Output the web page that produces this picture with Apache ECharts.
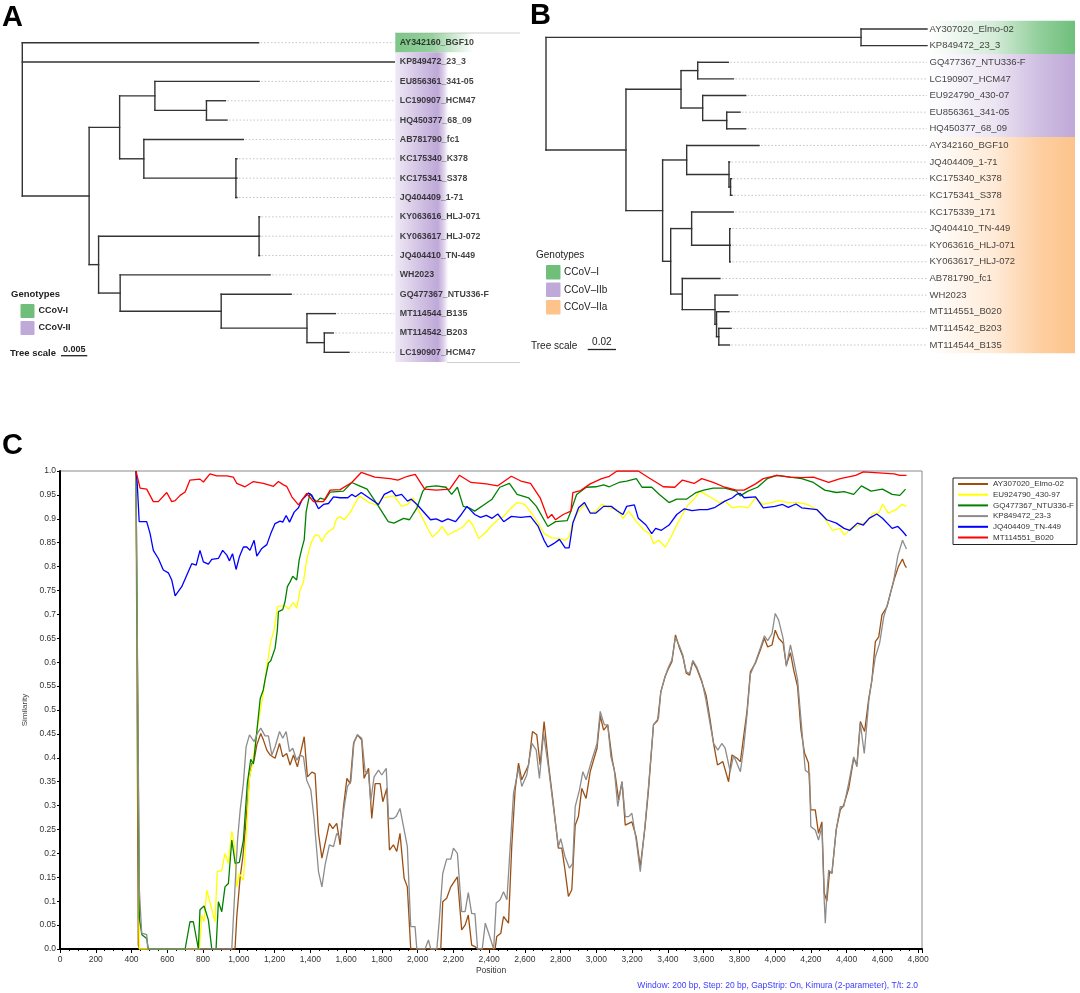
<!DOCTYPE html>
<html>
<head>
<meta charset="utf-8">
<title>CCoV trees and similarity plot</title>
<script src="https://cdn.jsdelivr.net/npm/echarts/dist/echarts.min.js"></script>
<style>
html,body{margin:0;padding:0;background:#fff;}
#main{width:1080px;height:993px;}
</style>
</head>
<body>
<div id="main"></div>
<script>
//=================================================================================
// A / B : phylogenetic trees, branch lengths
var treeA = "(AY342160_BGF10:0.0449,KP849472_23_3:0.0707,(((EU856361_341-05:0.0198,(LC190907_HCM47:0.0036,HQ450377_68_09:0.0039):0.0098):0.0067,(AB781790_fc1:0.0189,(KC175340_K378:0.0002,KC175341_S378:0.0002,JQ404409_1-71:0.0002):0.0175):0.0046):0.0058,((KY063616_HLJ-071:0.0001,KY063617_HLJ-072:0.0001,JQ404410_TN-449:0.0001):0.0305,(WH2023:0.0285,(GQ477367_NTU336-F:0.0133,(MT114544_B135:0.0054,(MT114542_B203:0.0017,LC190907_HCM47:0.0047):0.0033):0.0163):0.0192):0.0041):0.0018):0.0127);";
var treeB = "((AY307020_Elmo-02:0.0466,KP849472_23_3:0.0466):0.2226,(((GQ477367_NTU336-F:0.0216,LC190907_HCM47:0.0252):0.0118,(EU924790_430-07:0.0304,(EU856361_341-05:0.0094,HQ450377_68_09:0.0134):0.0170):0.0153):0.0389,((AY342160_BGF10:0.0511,(JQ404409_1-71:0.0004,(KC175340_K378:0.0007,KC175341_S378:0.0010):0.0011):0.0299):0.0170,((KC175339_171:0.0294,(JQ404410_TN-449:0.0004,KY063616_HLJ-071:0.0004,KY063617_HLJ-072:0.0004):0.0269):0.0148,(AB781790_fc1:0.0266,(WH2023:0.0160,(MT114551_B020:0.0088,(MT114542_B203:0.0087,MT114544_B135:0.0075):0.0016):0.0011):0.0231):0.0082):0.0057):0.0259):0.0565);";

// genotype strips: [first row, last row, colour index]
var groupsA = [[0, 0, 0], [1, 16, 1]];
var groupsB = [[0, 1, 0], [2, 6, 1], [7, 19, 2]];
var genoNamesA = ['CCoV-I', 'CCoV-II'];
var genoNamesB = ['CCoV\u2013I', 'CCoV\u2013IIb', 'CCoV\u2013IIa'];
var genoColors = ['#6fbf7b', '#bfa9d8', '#fdc38b'];
var scaleA = 0.005;
var scaleB = 0.02;

//=================================================================================
// C : similarity plot, [position, similarity]
var simNames = ['AY307020_Elmo-02', 'EU924790_430-97', 'GQ477367_NTU336-F', 'KP849472_23-3', 'JQ404409_TN-449', 'MT114551_B020'];
var simColors = ['#9c4f12', '#ffff00', '#008000', '#8c8c8c', '#0000ff', '#ff0000'];

var simBrown = [[425,1.0],[438,0.008],[445,0],[979,0],[989,0.068],[1008,0.151],[1023,0.193],[1041,0.27],[1060,0.36],[1073,0.388],[1086,0.395],[1101,0.427],[1123,0.451],[1138,0.437],[1157,0.416],[1175,0.406],[1203,0.399],[1228,0.43],[1246,0.402],[1268,0.409],[1287,0.385],[1306,0.406],[1328,0.381],[1343,0.406],[1366,0.444],[1384,0.36],[1409,0.37],[1427,0.367],[1446,0.242],[1465,0.19],[1483,0.221],[1507,0.263],[1526,0.252],[1548,0.263],[1567,0.218],[1586,0.298],[1605,0.357],[1623,0.346],[1642,0.43],[1664,0.448],[1688,0.437],[1701,0.357],[1726,0.378],[1744,0.273],[1763,0.346],[1791,0.346],[1806,0.308],[1828,0.336],[1843,0.207],[1865,0.218],[1884,0.204],[1902,0.242],[1925,0.148],[1943,0.13],[1962,0],[2130,0],[2141,0.099],[2163,0.106],[2186,0.13],[2223,0.151],[2247,0.04],[2266,0.05],[2284,0.071],[2303,0.008],[2321,0.005],[2336,0],[2434,0],[2443,0.026],[2466,0.033],[2481,0.068],[2509,0.054],[2527,0.214],[2546,0.333],[2565,0.389],[2583,0.354],[2621,0.385],[2643,0.455],[2667,0.448],[2686,0.385],[2708,0.476],[2732,0.389],[2757,0.312],[2788,0.211],[2807,0.211],[2825,0.165],[2844,0.11],[2863,0.124],[2882,0.259],[2900,0.277],[2919,0.336],[2943,0.315],[2966,0.371],[3004,0.42],[3022,0.488],[3041,0.458],[3064,0.469],[3088,0.399],[3106,0.364],[3125,0.312],[3144,0.35],[3162,0.259],[3199,0.266],[3223,0.235],[3246,0.172],[3273,0.256],[3292,0.333],[3320,0.469],[3343,0.478],[3361,0.538],[3385,0.57],[3404,0.587],[3423,0.601],[3443,0.657],[3466,0.629],[3484,0.612],[3503,0.577],[3522,0.573],[3540,0.601],[3562,0.587],[3590,0.559],[3614,0.531],[3637,0.479],[3656,0.43],[3678,0.385],[3708,0.392],[3740,0.35],[3759,0.406],[3787,0.399],[3806,0.392],[3824,0.444],[3843,0.497],[3862,0.58],[3890,0.598],[3918,0.626],[3940,0.65],[3959,0.632],[3983,0.636],[4001,0.667],[4020,0.65],[4045,0.64],[4063,0.594],[4086,0.62],[4104,0.584],[4126,0.549],[4145,0.458],[4165,0.41],[4187,0.389],[4200,0.291],[4225,0.291],[4243,0.242],[4262,0.266],[4275,0.117],[4290,0.1],[4295,0.102],[4305,0.162],[4318,0.158],[4342,0.249],[4365,0.291],[4384,0.301],[4412,0.336],[4440,0.399],[4458,0.385],[4477,0.476],[4501,0.455],[4523,0.521],[4542,0.563],[4561,0.643],[4580,0.653],[4598,0.699],[4626,0.716],[4645,0.744],[4666,0.773],[4690,0.8],[4713,0.816],[4726,0.803],[4735,0.798]];

var simYellow = [[425,1.0],[444,0],[780,0],[793,0.071],[806,0.057],[821,0.123],[843,0.092],[867,0.057],[880,0.162],[905,0.164],[923,0.2],[942,0.179],[961,0.246],[974,0.221],[989,0.13],[1003,0.158],[1026,0.144],[1045,0.256],[1060,0.36],[1078,0.388],[1101,0.455],[1119,0.495],[1137,0.535],[1157,0.591],[1179,0.643],[1198,0.668],[1216,0.716],[1231,0.718],[1259,0.718],[1278,0.711],[1306,0.725],[1324,0.713],[1343,0.751],[1362,0.768],[1380,0.814],[1403,0.848],[1427,0.866],[1446,0.866],[1465,0.852],[1483,0.866],[1511,0.876],[1530,0.88],[1548,0.901],[1567,0.904],[1589,0.898],[1621,0.912],[1675,0.948],[1728,0.934],[1771,0.929],[1804,0.944],[1868,0.948],[1890,0.937],[1911,0.926],[1944,0.93],[1976,0.944],[2008,0.916],[2051,0.884],[2083,0.862],[2116,0.873],[2137,0.884],[2170,0.866],[2202,0.873],[2223,0.876],[2256,0.884],[2288,0.898],[2309,0.887],[2342,0.859],[2385,0.873],[2417,0.887],[2449,0.898],[2482,0.905],[2514,0.919],[2557,0.934],[2600,0.93],[2643,0.909],[2675,0.891],[2708,0.869],[2751,0.86],[2794,0.859],[2826,0.855],[2848,0.862],[2869,0.894],[2901,0.916],[2934,0.93],[2966,0.912],[2998,0.916],[3030,0.93],[3073,0.923],[3116,0.919],[3149,0.901],[3181,0.916],[3224,0.894],[3267,0.876],[3299,0.869],[3321,0.848],[3349,0.855],[3386,0.841],[3418,0.862],[3450,0.887],[3482,0.909],[3515,0.93],[3547,0.941],[3579,0.958],[3611,0.951],[3644,0.944],[3687,0.934],[3719,0.937],[3762,0.923],[3805,0.926],[3848,0.923],[3891,0.944],[3934,0.93],[3977,0.934],[4020,0.938],[4074,0.934],[4128,0.934],[4182,0.93],[4235,0.919],[4278,0.901],[4321,0.876],[4365,0.88],[4386,0.866],[4429,0.88],[4472,0.887],[4515,0.894],[4548,0.912],[4580,0.912],[4601,0.93],[4634,0.912],[4677,0.919],[4709,0.93],[4735,0.926]];

var simGreen = [[425,1.0],[444,0.064],[458,0.03],[485,0.022],[494,0],[700,0],[727,0.057],[746,0.057],[774,0],[783,0.082],[806,0.09],[830,0.061],[849,0],[873,0],[886,0.099],[905,0.078],[923,0.13],[942,0.137],[961,0.228],[980,0.179],[1003,0.181],[1026,0.228],[1048,0.347],[1067,0.397],[1082,0.387],[1101,0.455],[1120,0.524],[1137,0.542],[1147,0.563],[1166,0.598],[1179,0.603],[1203,0.629],[1216,0.668],[1222,0.706],[1246,0.71],[1259,0.727],[1272,0.758],[1287,0.768],[1302,0.78],[1324,0.772],[1338,0.814],[1353,0.838],[1366,0.856],[1377,0.915],[1390,0.939],[1399,0.953],[1414,0.943],[1436,0.936],[1455,0.943],[1483,0.94],[1511,0.956],[1586,0.958],[1632,0.976],[1675,0.969],[1718,0.962],[1782,0.926],[1836,0.894],[1868,0.891],[1922,0.901],[1955,0.898],[1997,0.923],[2030,0.958],[2051,0.967],[2105,0.969],[2159,0.966],[2191,0.951],[2223,0.966],[2256,0.926],[2288,0.923],[2320,0.916],[2374,0.93],[2417,0.941],[2460,0.966],[2514,0.974],[2557,0.951],[2621,0.944],[2665,0.926],[2729,0.884],[2772,0.894],[2837,0.896],[2858,0.916],[2890,0.951],[2944,0.966],[2998,0.967],[3041,0.971],[3073,0.967],[3127,0.976],[3170,0.979],[3224,0.984],[3256,0.966],[3310,0.966],[3353,0.951],[3407,0.934],[3450,0.941],[3504,0.941],[3558,0.955],[3601,0.96],[3654,0.964],[3719,0.964],[3784,0.958],[3805,0.948],[3848,0.958],[3902,0.966],[3956,0.984],[4010,0.991],[4085,0.987],[4149,0.984],[4214,0.976],[4278,0.96],[4343,0.955],[4386,0.957],[4440,0.951],[4483,0.969],[4537,0.958],[4601,0.962],[4655,0.951],[4698,0.949],[4730,0.962]];

var simGray = [[425,1.0],[444,0.124],[457,0.033],[485,0.03],[491,0],[961,0],[980,0.137],[993,0.228],[1008,0.291],[1026,0.347],[1041,0.423],[1060,0.448],[1086,0.434],[1104,0.451],[1123,0.462],[1147,0.446],[1166,0.446],[1185,0.406],[1203,0.423],[1228,0.455],[1246,0.441],[1265,0.455],[1284,0.413],[1302,0.42],[1324,0.395],[1343,0.406],[1362,0.402],[1380,0.353],[1403,0.333],[1421,0.273],[1446,0.162],[1465,0.13],[1483,0.176],[1507,0.218],[1530,0.214],[1548,0.242],[1567,0.232],[1590,0.298],[1608,0.34],[1627,0.35],[1645,0.434],[1664,0.448],[1688,0.441],[1707,0.371],[1726,0.367],[1738,0.308],[1757,0.36],[1782,0.374],[1800,0.364],[1825,0.378],[1838,0.273],[1865,0.273],[1880,0.277],[1902,0.294],[1925,0.249],[1943,0.214],[1962,0.047],[1986,0.047],[1996,0],[2042,0],[2061,0.019],[2074,0],[2108,0],[2122,0.061],[2141,0.158],[2163,0.188],[2186,0.188],[2201,0.211],[2223,0.2],[2247,0.078],[2266,0.078],[2284,0.118],[2303,0.074],[2321,0.074],[2336,0],[2362,0],[2379,0.054],[2398,0.033],[2426,0],[2440,0.096],[2462,0.103],[2481,0.12],[2500,0.103],[2518,0.211],[2537,0.326],[2565,0.378],[2583,0.34],[2611,0.364],[2640,0.43],[2664,0.416],[2682,0.357],[2705,0.451],[2732,0.381],[2760,0.298],[2788,0.214],[2801,0.231],[2825,0.193],[2850,0.169],[2868,0.179],[2882,0.298],[2906,0.333],[2925,0.371],[2943,0.354],[2970,0.389],[3004,0.43],[3022,0.497],[3045,0.469],[3064,0.469],[3082,0.402],[3101,0.374],[3120,0.298],[3144,0.35],[3162,0.277],[3181,0.277],[3199,0.284],[3223,0.228],[3246,0.162],[3270,0.249],[3292,0.34],[3320,0.469],[3348,0.483],[3361,0.538],[3385,0.57],[3404,0.59],[3423,0.605],[3443,0.652],[3466,0.633],[3484,0.615],[3503,0.58],[3522,0.576],[3540,0.604],[3562,0.59],[3590,0.562],[3614,0.52],[3637,0.47],[3656,0.43],[3680,0.416],[3702,0.43],[3721,0.42],[3749,0.371],[3768,0.405],[3787,0.388],[3806,0.371],[3824,0.42],[3843,0.49],[3862,0.575],[3890,0.6],[3918,0.63],[3940,0.655],[3959,0.645],[3983,0.66],[4001,0.702],[4020,0.688],[4045,0.65],[4063,0.591],[4086,0.636],[4104,0.605],[4126,0.563],[4150,0.458],[4169,0.374],[4193,0.367],[4200,0.256],[4225,0.249],[4243,0.228],[4262,0.256],[4275,0.102],[4281,0.054],[4290,0.117],[4300,0.165],[4318,0.158],[4342,0.249],[4365,0.298],[4384,0.298],[4412,0.347],[4440,0.402],[4458,0.381],[4477,0.472],[4499,0.409],[4525,0.521],[4561,0.611],[4585,0.64],[4608,0.695],[4636,0.73],[4664,0.772],[4687,0.823],[4713,0.855],[4735,0.837]];

var simBlue = [[425,1.0],[432,0.974],[443,0.894],[485,0.894],[504,0.869],[522,0.834],[550,0.817],[578,0.793],[606,0.787],[625,0.772],[644,0.739],[681,0.758],[709,0.782],[737,0.806],[762,0.803],[783,0.834],[802,0.81],[830,0.805],[849,0.815],[886,0.817],[910,0.834],[933,0.824],[948,0.812],[965,0.827],[985,0.794],[1003,0.82],[1026,0.841],[1045,0.841],[1063,0.834],[1086,0.855],[1101,0.822],[1129,0.838],[1157,0.846],[1179,0.869],[1203,0.89],[1231,0.895],[1246,0.893],[1265,0.907],[1284,0.893],[1310,0.914],[1334,0.923],[1353,0.939],[1390,0.954],[1409,0.949],[1446,0.921],[1474,0.93],[1502,0.932],[1530,0.946],[1567,0.944],[1610,0.944],[1632,0.951],[1653,0.946],[1685,0.955],[1782,0.93],[1814,0.951],[1857,0.959],[1879,0.948],[1911,0.951],[1944,0.937],[1965,0.941],[1997,0.93],[2073,0.898],[2105,0.9],[2137,0.894],[2170,0.9],[2213,0.894],[2245,0.909],[2277,0.926],[2320,0.909],[2352,0.903],[2385,0.907],[2417,0.901],[2449,0.91],[2482,0.894],[2525,0.905],[2578,0.903],[2632,0.905],[2675,0.884],[2708,0.855],[2729,0.841],[2761,0.848],[2794,0.857],[2826,0.839],[2848,0.839],[2869,0.891],[2901,0.923],[2934,0.934],[2966,0.912],[2998,0.912],[3041,0.926],[3084,0.926],[3116,0.917],[3149,0.909],[3170,0.926],[3213,0.929],[3235,0.901],[3278,0.887],[3310,0.869],[3332,0.88],[3364,0.876],[3407,0.887],[3450,0.909],[3493,0.921],[3536,0.917],[3579,0.919],[3622,0.919],[3665,0.924],[3719,0.937],[3762,0.944],[3784,0.951],[3805,0.953],[3827,0.944],[3891,0.946],[3934,0.923],[3999,0.926],[4042,0.93],[4074,0.924],[4117,0.931],[4149,0.923],[4235,0.919],[4289,0.898],[4343,0.891],[4386,0.88],[4418,0.876],[4461,0.891],[4494,0.887],[4526,0.901],[4569,0.91],[4601,0.901],[4655,0.88],[4687,0.884],[4713,0.874],[4735,0.864]];

var simRed = [[425,1.0],[448,0.964],[485,0.962],[522,0.936],[550,0.936],[597,0.955],[625,0.936],[644,0.938],[672,0.949],[700,0.956],[727,0.981],[783,0.983],[802,0.977],[839,0.994],[877,0.99],[933,0.99],[970,0.987],[989,0.974],[1035,0.967],[1082,0.978],[1138,0.974],[1157,0.972],[1194,0.968],[1222,0.978],[1250,0.971],[1268,0.968],[1297,0.946],[1334,0.929],[1380,0.953],[1418,0.936],[1474,0.936],[1511,0.96],[1567,0.961],[1632,0.976],[1685,0.997],[1761,0.987],[1847,0.984],[1890,0.981],[1944,0.989],[1987,0.993],[2040,0.962],[2105,0.96],[2180,0.962],[2234,0.991],[2299,0.976],[2385,0.973],[2449,0.969],[2525,0.989],[2578,0.979],[2632,0.974],[2686,0.944],[2729,0.901],[2751,0.909],[2772,0.898],[2815,0.909],[2858,0.916],[2869,0.955],[2912,0.959],[2966,0.973],[3030,0.984],[3073,0.989],[3116,1.0],[3235,1.0],[3289,0.987],[3375,0.967],[3439,0.966],[3482,0.981],[3547,0.974],[3590,0.984],[3654,0.976],[3719,0.966],[3784,0.96],[3827,0.96],[3891,0.973],[3934,0.984],[4010,0.991],[4085,0.987],[4149,0.986],[4214,0.987],[4300,0.976],[4365,0.984],[4451,0.991],[4494,0.998],[4580,0.996],[4666,0.994],[4698,0.991],[4735,0.991]];

var simSeries = [simBrown, simYellow, simGreen, simGray, simBlue, simRed];
var posMax = 4822;
var simNote = 'Window: 200 bp, Step: 20 bp, GapStrip: On, Kimura (2-parameter), T/t: 2.0';

//=================================================================================
// newick -> nodes
function parseNewick(s) {
	var i = 0;
	function node() {
		var n = {children: []};
		if (s[i] === '(') {
			i++;
			n.children.push(node());
			while (s[i] === ',') { i++; n.children.push(node()); }
			i++;
		}
		var name = '';
		while (i < s.length && ':,();'.indexOf(s[i]) < 0) name += s[i++];
		n.name = name;
		n.len = 0;
		if (s[i] === ':') {
			i++;
			var num = '';
			while (i < s.length && ',();'.indexOf(s[i]) < 0) num += s[i++];
			n.len = parseFloat(num);
		}
		return n;
	}
	return node();
}

// rectangular layout: x = distance from root, y = leaf order
function layoutTree(root) {
	var leaves = [], nodes = [], maxDepth = 0;
	function walk(n, pd, isRoot) {
		n.parentDepth = pd;
		n.depth = isRoot ? 0 : pd + n.len;
		n.isRoot = isRoot;
		if (!n.children.length) {
			n.row = leaves.length;
			leaves.push(n);
		} else {
			n.children.forEach(function (c) { walk(c, n.depth, false); });
			n.row = (n.children[0].row + n.children[n.children.length - 1].row) / 2;
		}
		if (n.depth > maxDepth) maxDepth = n.depth;
		nodes.push(n);
	}
	walk(root, 0, true);
	return {nodes: nodes, leaves: leaves, maxDepth: maxDepth};
}

var layA = layoutTree(parseNewick(treeA));
var layB = layoutTree(parseNewick(treeB));

function branchData(lay) {
	return lay.nodes.map(function (n) {
		var r0 = n.children.length ? n.children[0].row : n.row;
		var r1 = n.children.length ? n.children[n.children.length - 1].row : n.row;
		return [n.parentDepth, n.depth, n.row, r0, r1, n.isRoot ? 1 : 0];
	});
}

function renderBranch(params, api) {
	var style = {stroke: '#333', lineWidth: 1.4, lineCap: 'square'};
	var kids = [];
	var r = api.value(2), r0 = api.value(3), r1 = api.value(4);
	if (!api.value(5)) {
		var a = api.coord([api.value(0), r]), b = api.coord([api.value(1), r]);
		kids.push({type: 'line', shape: {x1: a[0], y1: a[1], x2: b[0], y2: b[1]}, style: style});
	}
	if (r1 > r0) {
		var c0 = api.coord([api.value(1), r0]), c1 = api.coord([api.value(1), r1]);
		kids.push({type: 'line', shape: {x1: c0[0], y1: c0[1], x2: c1[0], y2: c1[1]}, style: style});
	}
	return {type: 'group', children: kids};
}

function leaderData(lay) {
	return lay.leaves.filter(function (l) { return l.depth < lay.maxDepth - 1e-6; })
		.map(function (l) { return [l.depth, lay.maxDepth, l.row]; });
}

function renderLeader(params, api) {
	var a = api.coord([api.value(0), api.value(2)]), b = api.coord([api.value(1), api.value(2)]);
	return {type: 'line', shape: {x1: a[0] + 2, y1: a[1], x2: b[0], y2: b[1]},
		style: {stroke: '#c4c4c4', lineWidth: 1, lineDash: [1.5, 2]}};
}

function rgba(hex, a) {
	var v = parseInt(hex.slice(1), 16);
	return 'rgba(' + (v >> 16) + ',' + ((v >> 8) & 255) + ',' + (v & 255) + ',' + a + ')';
}

// strip behind leaf labels, stops = [[offset, alpha], ...]
function stripRenderer(x0, widths, stopsFor) {
	return function (params, api) {
		var cs = params.coordSys;
		var top = api.coord([0, api.value(0) - 0.5])[1];
		var bot = api.coord([0, api.value(1) + 0.5])[1];
		var ci = api.value(2);
		var col = genoColors[ci];
		return {
			type: 'rect', silent: true,
			shape: {x: cs.x + cs.width + x0, y: top, width: widths[ci], height: bot - top},
			style: {fill: {type: 'linear', x: 0, y: 0, x2: 1, y2: 0,
				colorStops: stopsFor[ci].map(function (s) { return {offset: s[0], color: rgba(col, s[1])}; })}}
		};
	};
}

function scaleRenderer(x, y, font) {
	return function (params, api) {
		var len = api.size([api.value(0), 0])[0];
		return {type: 'group', children: [
			{type: 'line', shape: {x1: x, y1: y, x2: x + len, y2: y}, style: {stroke: '#222', lineWidth: 1.3}},
			{type: 'text', style: {text: String(api.value(0)), x: x + len / 2, y: y - 2, align: 'center',
				verticalAlign: 'bottom', font: font, fill: '#222'}}
		]};
	};
}

function labelData(lay) {
	return lay.leaves.map(function (l) { return {name: l.name, value: [lay.maxDepth, l.row]}; });
}

function thousands(v) {
	return String(v).replace(/\B(?=(\d{3})+(?!\d))/g, ',');
}

//=================================================================================
var fontA = '"Liberation Sans", Arial, sans-serif';
var series = [
	// tree A
	{type: 'custom', xAxisIndex: 0, yAxisIndex: 0, data: groupsA, z: 1,
		renderItem: stripRenderer(1, [78, 53], [
			[[0, 0.9], [0.45, 0.75], [1, 0]],
			[[0, 0.25], [0.45, 0.7], [0.8, 1], [0.9, 0.6], [1, 0]]
		])},
	{type: 'custom', xAxisIndex: 0, yAxisIndex: 0, data: leaderData(layA), renderItem: renderLeader, z: 2},
	{type: 'custom', xAxisIndex: 0, yAxisIndex: 0, data: branchData(layA), renderItem: renderBranch, z: 3},
	{type: 'scatter', xAxisIndex: 0, yAxisIndex: 0, data: labelData(layA), symbolSize: 1, clip: false, z: 4,
		itemStyle: {color: 'rgba(0,0,0,0)'},
		label: {show: true, position: 'right', distance: 5, formatter: '{b}', fontSize: 8.8,
			fontWeight: 'bold', fontFamily: fontA, color: '#111'}},
	{type: 'custom', xAxisIndex: 0, yAxisIndex: 0, data: [[scaleA, 0]],
		renderItem: scaleRenderer(61, 355.7, 'bold 9px ' + fontA)},
	// tree B
	{type: 'custom', xAxisIndex: 1, yAxisIndex: 1, data: groupsB, z: 1,
		renderItem: stripRenderer(2, [146, 146, 146], [
			[[0, 0], [0.45, 0.3], [0.75, 0.75], [1, 1]],
			[[0, 0], [0.45, 0.3], [0.75, 0.75], [1, 1]],
			[[0, 0], [0.45, 0.35], [0.75, 0.8], [1, 1]]
		])},
	{type: 'custom', xAxisIndex: 1, yAxisIndex: 1, data: leaderData(layB), renderItem: renderLeader, z: 2},
	{type: 'custom', xAxisIndex: 1, yAxisIndex: 1, data: branchData(layB), renderItem: renderBranch, z: 3},
	{type: 'scatter', xAxisIndex: 1, yAxisIndex: 1, data: labelData(layB), symbolSize: 1, clip: false, z: 4,
		itemStyle: {color: 'rgba(0,0,0,0)'},
		label: {show: true, position: 'right', distance: 2, formatter: '{b}', fontSize: 9.5,
			fontFamily: fontA, color: '#111'}},
	{type: 'custom', xAxisIndex: 1, yAxisIndex: 1, data: [[scaleB, 0]],
		renderItem: scaleRenderer(587.7, 349.5, '10px ' + fontA)}
];

simSeries.forEach(function (pts, k) {
	series.push({
		name: simNames[k], type: 'line', xAxisIndex: 2, yAxisIndex: 2, data: pts,
		showSymbol: false, symbol: 'none', z: 5 + k,
		lineStyle: {width: 1.3, color: simColors[k]}, itemStyle: {color: simColors[k]}
	});
});

// legends of the trees, panel letters
var graphic = [
	{type: 'text', style: {text: 'A', x: 2, y: 18, font: 'bold 29px ' + fontA, fill: '#000', verticalAlign: 'middle'}},
	{type: 'text', style: {text: 'B', x: 530, y: 16, font: 'bold 29px ' + fontA, fill: '#000', verticalAlign: 'middle'}},
	{type: 'text', style: {text: 'C', x: 2, y: 446, font: 'bold 29px ' + fontA, fill: '#000', verticalAlign: 'middle'}},
	{type: 'line', shape: {x1: 395, y1: 33, x2: 520, y2: 33}, style: {stroke: '#cfcfcf', lineWidth: 1}},
	{type: 'line', shape: {x1: 447, y1: 362.5, x2: 520, y2: 362.5}, style: {stroke: '#cfcfcf', lineWidth: 1}},
	{type: 'text', style: {text: 'Genotypes', x: 11, y: 294.5, font: 'bold 9.5px ' + fontA, fill: '#222', verticalAlign: 'middle'}},
	{type: 'text', style: {text: 'Tree scale', x: 10, y: 353.5, font: 'bold 9.5px ' + fontA, fill: '#222', verticalAlign: 'middle'}},
	{type: 'text', style: {text: 'Genotypes', x: 536, y: 255, font: '10px ' + fontA, fill: '#222', verticalAlign: 'middle'}},
	{type: 'text', style: {text: 'Tree scale', x: 531, y: 346, font: '10px ' + fontA, fill: '#222', verticalAlign: 'middle'}},
	{type: 'text', style: {text: simNote, x: 918, y: 986, font: '8.5px ' + fontA, fill: '#3a3aff', align: 'right', verticalAlign: 'middle'}}
];
genoNamesA.forEach(function (nm, k) {
	var y = 304 + k * 17;
	graphic.push({type: 'rect', shape: {x: 20.5, y: y, width: 14, height: 14, r: 1}, style: {fill: genoColors[k]}});
	graphic.push({type: 'text', style: {text: nm, x: 38.5, y: y + 7, font: 'bold 9px ' + fontA, fill: '#222', verticalAlign: 'middle'}});
});
genoNamesB.forEach(function (nm, k) {
	var y = 265 + k * 17.5;
	graphic.push({type: 'rect', shape: {x: 546, y: y, width: 14.5, height: 14.5, r: 1}, style: {fill: genoColors[k]}});
	graphic.push({type: 'text', style: {text: nm, x: 564, y: y + 7.3, font: '10px ' + fontA, fill: '#222', verticalAlign: 'middle'}});
});

var axisText = {fontSize: 8.5, color: '#333', fontFamily: fontA};

var chart = echarts.init(document.getElementById('main'));
chart.setOption({
	animation: false,
	backgroundColor: '#fff',
	grid: [
		{left: 22.3, top: 33, width: 372, height: 329, outerBoundsMode: 'none'},
		{left: 546, top: 20.7, width: 381, height: 332.6, outerBoundsMode: 'none'},
		{left: 60, top: 471, width: 862, height: 478, show: true, borderColor: '#8a8a8a', borderWidth: 1,
			outerBoundsMode: 'none'}
	],
	xAxis: [
		{gridIndex: 0, type: 'value', min: 0, max: layA.maxDepth, show: false},
		{gridIndex: 1, type: 'value', min: 0, max: layB.maxDepth, show: false},
		{gridIndex: 2, type: 'value', min: 0, max: posMax, interval: 200,
			name: 'Position', nameLocation: 'middle', nameGap: 17, nameTextStyle: axisText,
			axisLine: {show: true, onZero: false, lineStyle: {color: '#000', width: 2}},
			axisTick: {show: true, length: 4, lineStyle: {color: '#000'}},
			minorTick: {show: true, splitNumber: 4, length: 2, lineStyle: {color: '#000'}},
			splitLine: {show: false},
			axisLabel: Object.assign({margin: 6, formatter: function (v) { return v % 200 === 0 ? thousands(v) : ''; }}, axisText)}
	],
	yAxis: [
		{gridIndex: 0, type: 'value', min: -0.5, max: layA.leaves.length - 0.5, inverse: true, show: false},
		{gridIndex: 1, type: 'value', min: -0.5, max: layB.leaves.length - 0.5, inverse: true, show: false},
		{gridIndex: 2, type: 'value', min: 0, max: 1, interval: 0.05,
			name: 'Similarity', nameLocation: 'middle', nameGap: 28, nameTextStyle: {fontSize: 8, color: '#444', fontFamily: fontA},
			axisLine: {show: true, onZero: false, lineStyle: {color: '#000', width: 2}},
			axisTick: {show: true, length: 3, lineStyle: {color: '#000'}},
			splitLine: {show: false},
			axisLabel: Object.assign({margin: 4, formatter: function (v) {
				if (v === 0) return '0.0';
				if (v === 1) return '1.0';
				return String(parseFloat(v.toFixed(2)));
			}}, axisText)}
	],
	legend: {
		data: simNames, orient: 'vertical', left: 953, top: 478, selectedMode: false,
		icon: 'rect', itemWidth: 30, itemHeight: 2, itemGap: 0.7, itemStyle: {borderWidth: 0},
		padding: [1, 3, 2, 5], borderColor: '#222', borderWidth: 1, backgroundColor: '#fff',
		textStyle: {fontSize: 8, lineHeight: 10, color: '#333', fontFamily: fontA}
	},
	graphic: graphic,
	series: series
});
</script>
</body>
</html>
